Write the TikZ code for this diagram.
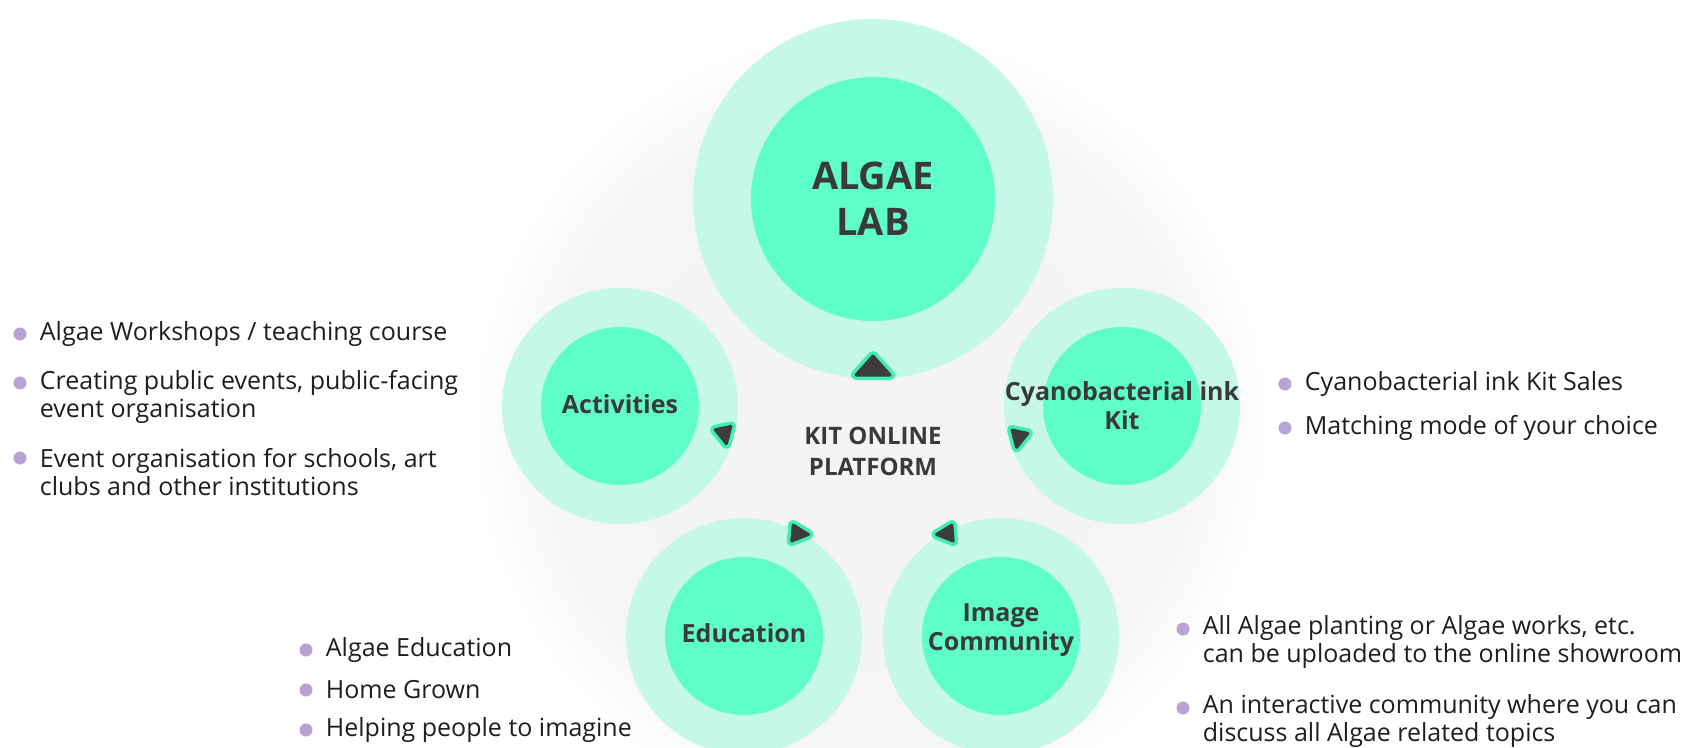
\documentclass[tikz,border=0pt]{standalone}
\usepackage{fontspec}
\setmainfont{Open Sans}
\usetikzlibrary{positioning,calc}

\definecolor{ringmint}{HTML}{C5F8E6}
\definecolor{coremint}{HTML}{5EFDC9}
\definecolor{tipedge}{HTML}{3FEFB0}
\definecolor{tipdark}{HTML}{3C3C3C}
\definecolor{labelgray}{HTML}{3A3A3A}
\definecolor{itemblack}{HTML}{1E1E1E}
\definecolor{dotlilac}{HTML}{B9A3D6}

\pgfdeclareradialshading{halo}{\pgfpoint{0bp}{0bp}}{color(0bp)=(gray!9); color(20bp)=(gray!8); color(25bp)=(white); color(50bp)=(white)}

\begin{document}
\begin{tikzpicture}[x=1pt, y=-1pt,
  ring/.style={circle, fill=ringmint, inner sep=0pt, minimum size=236pt},
  core/.style={circle, fill=coremint, inner sep=0pt, minimum size=158pt},
  tag/.style={align=center, text=labelgray, inner sep=0pt, font=\bfseries\fontsize{25}{29}\selectfont},
  dot/.style={circle, fill=dotlilac, inner sep=0pt, minimum size=13pt},
  item/.style={right=13pt of #1, align=left, text=itemblack, inner sep=0pt, font=\fontsize{25}{28}\selectfont},
  pointer/.pic={
    \fill[tipedge, draw=tipedge, line width=10pt, line join=round] (10pt,0pt) -- (-6pt,8pt) -- (-6pt,-8pt) -- cycle;
    \fill[tipdark, draw=tipdark, line width=3pt, line join=round] (10pt,0pt) -- (-6pt,8pt) -- (-6pt,-8pt) -- cycle;
  },
  bigpointer/.pic={
    \fill[tipedge, draw=tipedge, line width=10pt, line join=round] (10pt,0pt) -- (-9pt,17pt) -- (-9pt,-17pt) -- cycle;
    \fill[tipdark, draw=tipdark, line width=3pt, line join=round] (10pt,0pt) -- (-9pt,17pt) -- (-9pt,-17pt) -- cycle;
  }]
  \useasboundingbox (0,0) rectangle (1683,747);
  \fill[white] (0,0) rectangle (1683,747);
  % soft grey disc behind the platform
  \shade[shading=halo] (870,425) circle (400pt);

  % circles
  \node[ring, minimum size=360pt] (lab) at (873,199) {};
  \node[core, minimum size=244pt] (labcore) at (lab) {};
  \node[ring] (act) at (620,406) {};
  \node[core] (actcore) at (act) {};
  \node[ring] (cyano) at (1122,406) {};
  \node[core] (cyanocore) at (cyano) {};
  \node[ring] (edu) at (744,636) {};
  \node[core] (educore) at (edu) {};
  \node[ring] (img) at (1001,636) {};
  \node[core] (imgcore) at (img) {};

  % little arrow heads on the rings
  \pic[rotate=90] at ($(lab)+(-90:167pt)$) {bigpointer};
  \pic[rotate=-78] at ($(act)+(-15:108pt)$) {pointer};
  \pic[rotate=-102] at ($(cyano)+(197:108pt)$) {pointer};
  \pic[rotate=-5] at ($(edu)+(62:116pt)$) {pointer};
  \pic[rotate=185] at ($(img)+(118:116pt)$) {pointer};

  % labels
  \node[tag, font=\bfseries\fontsize{38}{46}\selectfont] (labtag) at (labcore) {ALGAE\\LAB};
  \node[tag] (acttag) at ([yshift=2pt]actcore) {Activities};
  \node[tag] (cyanotag) at (cyanocore) {Cyanobacterial ink\\Kit};
  \node[tag] (edutag) at ([yshift=3pt]educore) {Education};
  \node[tag] (imgtag) at ([yshift=6pt]imgcore) {Image\\Community};
  \node[tag, font=\bfseries\fontsize{24}{31}\selectfont] (platform) at (873,451) {KIT ONLINE\\PLATFORM};

  % bullet lists
  \node[dot] (a1) at (20,334) {};
  \node[item=a1] (at1) {Algae Workshops / teaching course};
  \node[dot] (a2) at (20,383) {};
  \node[item=a2, yshift=-14pt] (at2) {Creating public events, public-facing\\event organisation};
  \node[dot] (a3) at (20,458) {};
  \node[item=a3, yshift=-14pt] (at3) {Event organisation for schools, art\\clubs and other institutions};

  \node[dot] (e1) at (306,650) {};
  \node[item=e1] (et1) {Algae Education};
  \node[dot] (e2) at (306,690) {};
  \node[item=e2] (et2) {Home Grown};
  \node[dot] (e3) at (306,730) {};
  \node[item=e3] (et3) {Helping people to imagine};

  \node[dot] (c1) at (1285,384) {};
  \node[item=c1] (ct1) {Cyanobacterial ink Kit Sales};
  \node[dot] (c2) at (1285,428) {};
  \node[item=c2] (ct2) {Matching mode of your choice};

  \node[dot] (m1) at (1183,629) {};
  \node[item=m1, yshift=-13pt] (mt1) {All Algae planting or Algae works, etc.\\can be uploaded to the online showroom};
  \node[dot] (m2) at (1183,708) {};
  \node[item=m2, yshift=-13pt] (mt2) {An interactive community where you can\\discuss all Algae related topics};
\end{tikzpicture}
\end{document}
